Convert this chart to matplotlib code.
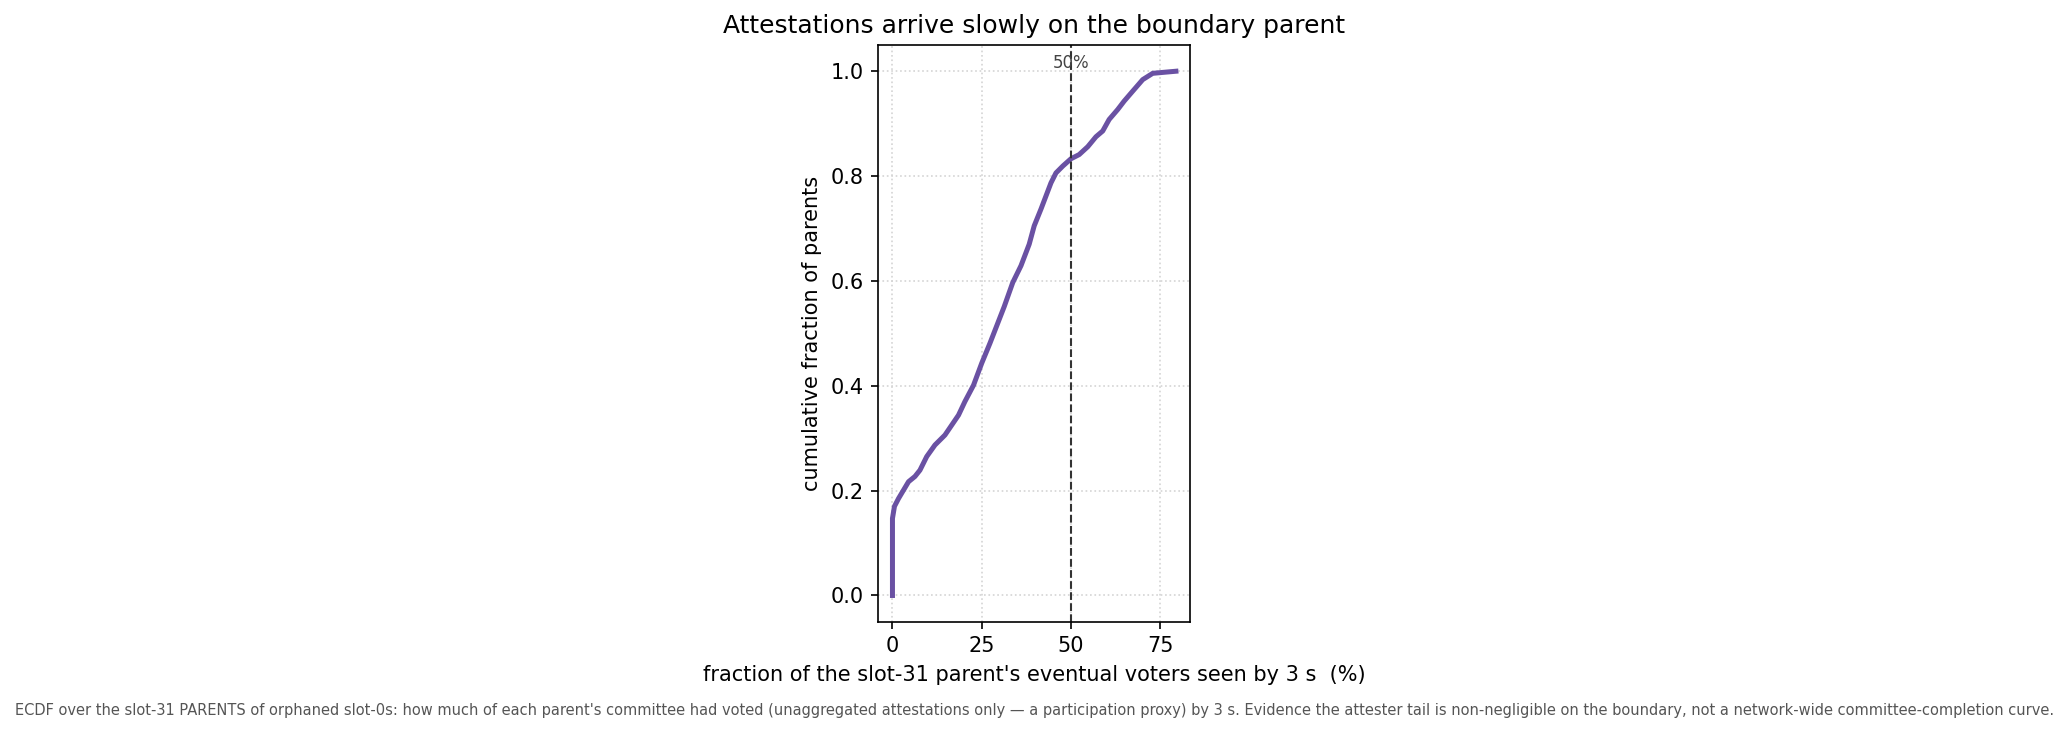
import matplotlib
matplotlib.use('Agg')
import matplotlib.pyplot as plt

# ECDF: fraction of parent's eventual voters seen by 3 s (%)
pct = [0, 0, 0.56, 1.7, 3.1, 4.5, 6.3, 7.7, 9.6, 11.9, 14.7, 16.6, 18.5,
       20.3, 22.7, 25.0, 27.3, 29.3, 31.3, 33.7, 36.0, 38.3, 39.7, 41.6,
       43.0, 44.4, 45.8, 47.7, 50.0, 52.3, 54.7, 57.0, 58.9, 60.7, 63.1,
       64.9, 67.3, 70.1, 72.9, 76.1, 79.4]
cum = [0, 0.147, 0.170, 0.185, 0.201, 0.217, 0.227, 0.239, 0.265, 0.287,
       0.306, 0.325, 0.344, 0.370, 0.401, 0.443, 0.481, 0.516, 0.551, 0.597,
       0.629, 0.670, 0.705, 0.737, 0.762, 0.787, 0.806, 0.819, 0.833, 0.841,
       0.856, 0.875, 0.886, 0.908, 0.927, 0.943, 0.962, 0.984, 0.996, 0.998,
       1.0]
xticks = [0, 25, 50, 75]
mark = 50

caption = ("ECDF over the slot-31 PARENTS of orphaned slot-0s: how much of each parent's "
           "committee had voted (unaggregated attestations only \u2014 a participation proxy) "
           "by 3 s. Evidence the attester tail is non-negligible on the boundary, not a "
           "network-wide committee-completion curve.")

fig = plt.figure(figsize=(2069 / 150, 732 / 150), dpi=150)
ax = fig.add_axes([0.4245, 0.1507, 0.1507, 0.7878])

ax.plot(pct, cum, color='#6a51a3', lw=2.4, solid_joinstyle='round')
ax.axvline(mark, color='#333333', ls='--', lw=1)
ax.text(mark, 0.985, f"{mark}%", transform=ax.get_xaxis_transform(),
        ha='center', va='top', fontsize=8, color='#444444')

ax.set_xticks(xticks)
ax.grid(True, ls=':', color='#d4d4d4', lw=0.8)
ax.set_xlabel("fraction of the slot-31 parent's eventual voters seen by 3 s  (%)")
ax.set_ylabel("cumulative fraction of parents")
ax.set_title("Attestations arrive slowly on the boundary parent")

fig.text(0.5, 0.029, caption, ha='center', va='center', fontsize=7, color='#555555')

fig.savefig('out.png', dpi=150)
